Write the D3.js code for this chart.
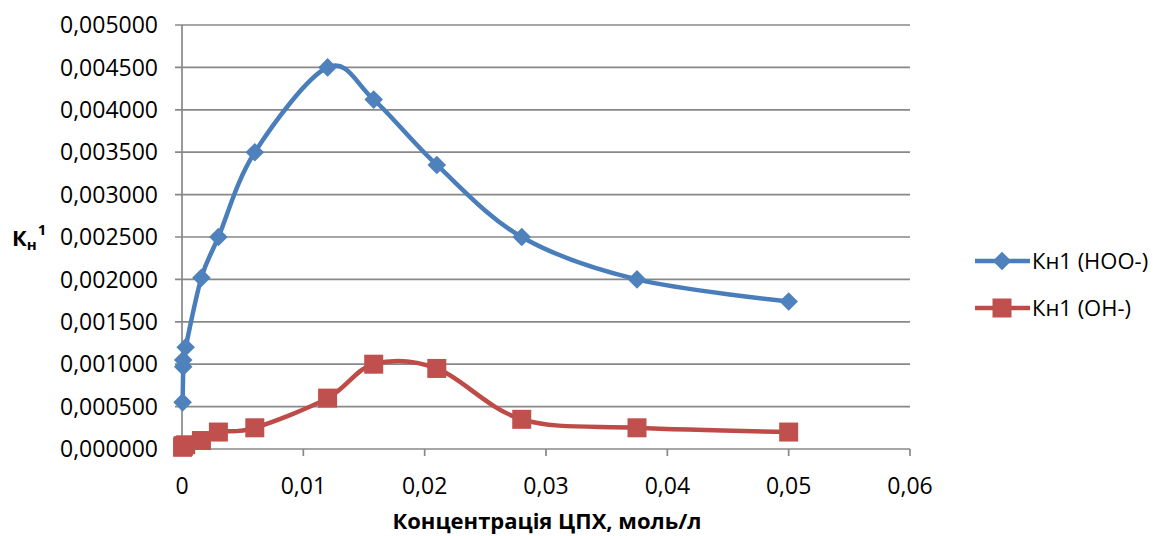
<!DOCTYPE html>
<html><head><meta charset="utf-8">
<script src="https://cdn.jsdelivr.net/npm/d3@7"></script>
<style>body{margin:0;background:#fff}svg{display:block}text{font-family:"Open Sans",sans-serif;fill:#000}</style>
</head><body><svg id="c" width="1157" height="536"></svg>
<script>
const concentrations = [0.00005, 0.0001, 0.0001, 0.0003, 0.0016, 0.003, 0.006, 0.012, 0.0158, 0.021, 0.028, 0.0375, 0.05];
const kHOO = [0.00055, 0.00097, 0.00105, 0.0012, 0.00202, 0.0025, 0.0035, 0.0045, 0.00412, 0.00335, 0.0025, 0.002, 0.00174];
const kOH = [0.00002, 0.00003, 0.00004, 0.00005, 0.0001, 0.0002, 0.00025, 0.0006, 0.001, 0.00095, 0.00035, 0.00025, 0.0002];
const yTicks = [0, 0.0005, 0.001, 0.0015, 0.002, 0.0025, 0.003, 0.0035, 0.004, 0.0045, 0.005];
const xTicks = [0, 0.01, 0.02, 0.03, 0.04, 0.05, 0.06];
const seriesNames = ["Кн1 (HOO-)", "Кн1 (OH-)"];
const xTitle = "Концентрація ЦПХ, моль/л";

const svg = d3.select("#c");
const x = d3.scaleLinear().domain([0, 0.06]).range([182, 910]);
const y = d3.scaleLinear().domain([0, 0.005]).range([449, 25]);
const grid = "#888";

svg.append("g").selectAll("line").data(yTicks).join("line")
  .attr("x1", 175).attr("x2", 910).attr("y1", d => y(d)).attr("y2", d => y(d))
  .attr("stroke", grid).attr("stroke-width", 1.7);
svg.append("line").attr("x1", 182).attr("x2", 182).attr("y1", y(0.005)).attr("y2", y(0))
  .attr("stroke", grid).attr("stroke-width", 1.7);
svg.append("g").selectAll("line").data(xTicks).join("line")
  .attr("x1", d => x(d)).attr("x2", d => x(d)).attr("y1", 449).attr("y2", 456)
  .attr("stroke", grid).attr("stroke-width", 1.7);

const fmtY = d => d3.format(".6f")(d).replace(".", ",");
const fmtX = d => d === 0 ? "0" : String(d).replace(".", ",");
svg.append("g").selectAll("text").data(yTicks).join("text")
  .attr("x", 158).attr("y", d => y(d)).attr("dy", "0.36em").attr("text-anchor", "end")
  .style("font-size", "23px").text(fmtY);
svg.append("g").selectAll("text").data(xTicks).join("text")
  .attr("x", d => x(d)).attr("y", 494).attr("text-anchor", "middle")
  .style("font-size", "23px").text(fmtX);

svg.append("text").attr("x", 547).attr("y", 529).attr("text-anchor", "middle")
  .style("font-size", "22px").style("font-weight", "bold").text(xTitle);

const yl = svg.append("text").attr("x", 12).attr("y", 246).style("font-weight", "bold").style("font-size", "22px");
yl.append("tspan").text("К");
yl.append("tspan").attr("dy", 4).style("font-size", "15px").text("н");
yl.append("tspan").attr("dy", -15).attr("dx", 1).style("font-size", "15px").text("1");

const blue = "#4A7EBB", red = "#BE4B48";
const line = d3.line().curve(d3.curveCardinal.tension(0));
const ptsB = concentrations.map((c, i) => [x(c), y(kHOO[i])]);
const ptsR = concentrations.map((c, i) => [x(c), y(kOH[i])]);
svg.append("path").attr("d", line(ptsB)).attr("fill", "none").attr("stroke", blue).attr("stroke-width", 4.5);
svg.append("path").attr("d", line(ptsR)).attr("fill", "none").attr("stroke", red).attr("stroke-width", 4.5);

const diamond = d3.symbol().type(d3.symbolDiamond2).size(220);
svg.append("g").selectAll("path").data(ptsB).join("path")
  .attr("transform", d => `translate(${d[0]},${d[1]})`).attr("d", diamond).attr("fill", "#4F81BD");
svg.append("g").selectAll("rect").data(ptsR).join("rect")
  .attr("x", d => d[0] - 9.5).attr("y", d => d[1] - 9.5).attr("width", 19).attr("height", 19).attr("fill", "#C0504D");

const leg = [{n: seriesNames[0], c: blue, y: 261, m: "d"}, {n: seriesNames[1], c: red, y: 308, m: "s"}];
leg.forEach(l => {
  svg.append("line").attr("x1", 975).attr("x2", 1030).attr("y1", l.y).attr("y2", l.y)
    .attr("stroke", l.c).attr("stroke-width", 4.5);
  if (l.m === "d") svg.append("path").attr("transform", `translate(1002,${l.y})`).attr("d", diamond).attr("fill", "#4F81BD");
  else svg.append("rect").attr("x", 992.5).attr("y", l.y - 9.5).attr("width", 19).attr("height", 19).attr("fill", "#C0504D");
  svg.append("text").attr("x", 1032).attr("y", l.y).attr("dy", "0.36em").style("font-size", "22px").text(l.n);
});
</script></body></html>
